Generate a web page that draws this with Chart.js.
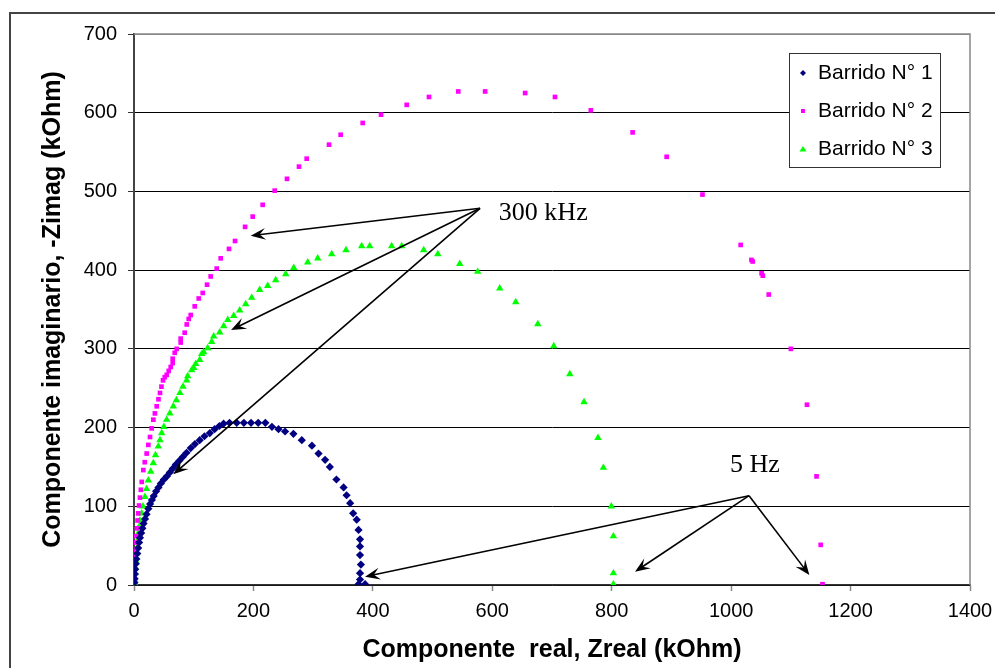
<!DOCTYPE html>
<html>
<head>
<meta charset="utf-8">
<script src="https://cdn.jsdelivr.net/npm/chart.js@4.4.1/dist/chart.umd.min.js"></script>
<style>
body { margin: 0; background: #fff; }
#wrap { width: 995px; height: 668px; }
</style>
</head>
<body>
<div id="wrap"><canvas id="myChart" width="995" height="668"></canvas></div>
<script>
// Barrido N° 1 (Zreal, -Zimag in kOhm)
const x1 = [0.5, 1, 1.5, 2, 3, 4, 5.5, 7, 8.5, 10, 12, 14, 16, 18.5, 21, 24, 27, 30, 33, 37, 41, 45, 50, 55, 60, 65, 70, 76, 82, 88, 95, 102, 110, 118, 127, 135, 143, 150, 160, 172, 184, 196, 208, 220, 231, 242, 253, 267, 281, 298, 309, 320, 328, 339, 351, 356, 362, 367, 373, 376, 378.5, 378.5, 378.5, 380, 378.5, 378.5, 376, 387]
const y1 = [3, 8, 14, 20, 27, 33, 40, 47, 54, 60, 66, 72, 78, 84, 90, 97, 103, 108, 113, 119, 124, 129, 134, 138, 143, 148, 153, 158, 163, 168, 174, 179, 184, 189, 193, 198, 202, 205, 206, 206, 206, 206, 206, 206, 201, 198, 195, 192, 184, 177, 167, 159, 150, 134, 124, 114, 104, 91, 83, 70, 58, 49, 38, 26, 15, 7, 1, 1]

// Barrido N° 2
const x2 = [0.5, 1, 1.5, 2, 2.5, 3, 3.5, 4, 5, 6, 7, 8.5, 10, 11.5, 13, 15.6, 18, 21.2, 24, 26.8, 29.5, 32.4, 35, 38, 41, 43.5, 46, 48.6, 51.5, 54.8, 58.1, 61.5, 64.8, 64.8, 68.2, 71.5, 78.2, 78.2, 84.9, 88.3, 91.6, 95, 101.7, 108.4, 115.1, 122.3, 128.4, 138.5, 145.2, 159.1, 169.2, 186, 198.8, 215.5, 235.6, 256.2, 276.3, 289.2, 326.6, 346.1, 383, 413.7, 456.7, 494, 543, 588, 655, 705, 765, 835, 892, 952, 1016, 1034, 1036, 1051, 1053, 1063, 1100, 1127, 1143, 1150, 1153]
const y2 = [5, 12, 20, 28, 36, 45, 54, 62, 72, 82, 91, 101, 111, 121, 131, 146, 156, 167, 178, 188, 199, 210, 218, 227, 236, 244, 252, 260, 264, 267, 272, 277, 282, 287.5, 295, 300, 308, 313, 320.5, 331, 338, 343, 354, 364, 371, 381.5, 392, 402, 415, 427, 437, 455, 468, 483, 501, 516, 531.5, 541.6, 559.4, 572, 587, 597.5, 610, 620, 627, 627, 625, 620, 603, 575, 544, 496, 432, 413, 411, 396, 393, 369, 300, 229, 138, 51, 1]

// Barrido N° 3
const x3 = [1, 1.7, 1.7, 2.5, 3.5, 4.5, 5.5, 6.5, 7.2, 8.5, 10, 12.9, 15, 18.4, 21, 24, 28, 32.3, 36, 40.7, 43.5, 46.4, 50, 54.7, 60, 65.8, 71, 77, 82, 88.2, 89.9, 96.6, 100, 103.3, 110, 113.4, 116.7, 123.4, 130.1, 133.5, 143.5, 150.2, 157, 167, 177, 187.1, 197.1, 210.5, 223.9, 237.3, 254.1, 267.5, 290.9, 307.7, 331.1, 355, 381.3, 394.7, 431.5, 448.3, 485.2, 508.7, 545.5, 575.6, 612.5, 639.3, 676.2, 703, 729.8, 753.6, 777, 786, 799.4, 802.8, 802.8, 802.8]
const y3 = [3, 6, 15, 22, 30, 40, 48, 57, 66, 74, 82, 91, 100, 112, 122, 133, 144, 155, 165, 176, 184, 193, 201, 210, 218, 227, 235, 244, 252, 260, 265.5, 273, 276, 281, 286, 293.5, 296, 301, 309, 316, 321, 329, 337, 342, 349, 357, 365, 375, 380, 387.5, 395, 403, 410, 415, 420.5, 425.6, 430.7, 430.7, 430.7, 430.7, 425.6, 420.5, 408, 398, 377, 359.5, 331.6, 303.6, 268, 232.5, 187, 149, 100, 62, 15, 1]

const seriesLabels = ['Barrido N° 1', 'Barrido N° 2', 'Barrido N° 3']
const xTitle = 'Componente  real, Zreal (kOhm)'
const yTitle = 'Componente imaginario, -Zimag (kOhm)'

// frequency call-outs, in data units
const hfText = '300 kHz'
const hfTextAt = [611, 472.6]
const hfFrom = [579.5, 478.6]
const hfTo = [[195.4, 443.8], [162.5, 324], [65.8, 140.6]]
const lfText = '5 Hz'
const lfTextAt = [998, 152.5]
const lfFrom = [1030, 113.5]
const lfTo = [[386.9, 10.6], [839, 16.9], [1131, 12.7]]

const colors = ['#000080', '#FF00FF', '#00FF00']
const shapes = ['rectRot', 'rect', 'triangle']
const radii = [4.1, 3.3, 4.3]

function toPoints(xs, ys) {
    return xs.map((x, i) => ({x: x, y: ys[i]}))
}

function arrow(ctx, xa, ya, xb, yb) {
    const a = Math.atan2(yb - ya, xb - xa)
    const c = Math.cos(a), s = Math.sin(a)
    ctx.beginPath()
    ctx.moveTo(xa, ya)
    ctx.lineTo(xb - 8 * c, yb - 8 * s)
    ctx.stroke()
    const L = 15, W = 6, N = 9
    ctx.beginPath()
    ctx.moveTo(xb, yb)
    ctx.lineTo(xb - L * c + W * s, yb - L * s - W * c)
    ctx.lineTo(xb - N * c, yb - N * s)
    ctx.lineTo(xb - L * c - W * s, yb - L * s + W * c)
    ctx.closePath()
    ctx.fill()
}

const framePlugin = {
    id: 'frame',
    beforeDraw(chart) {
        const ctx = chart.ctx
        ctx.save()
        ctx.fillStyle = '#fff'
        ctx.fillRect(0, 0, chart.width, chart.height)
        ctx.strokeStyle = '#444'
        ctx.lineWidth = 2
        ctx.beginPath()
        ctx.moveTo(10, chart.height + 2)
        ctx.lineTo(10, 13)
        ctx.lineTo(chart.width + 2, 13)
        ctx.stroke()
        ctx.restore()
    },
    beforeDatasetsDraw(chart) {
        const ctx = chart.ctx
        const a = chart.chartArea
        ctx.save()
        ctx.strokeStyle = '#888'
        ctx.lineWidth = 1.5
        ctx.beginPath()
        ctx.moveTo(a.left, a.top)
        ctx.lineTo(a.right, a.top)
        ctx.lineTo(a.right, a.bottom)
        ctx.stroke()
        ctx.restore()
    },
    afterDraw(chart) {
        const ctx = chart.ctx
        const xs = chart.scales.x, ys = chart.scales.y
        const px = (p) => [xs.getPixelForValue(p[0]), ys.getPixelForValue(p[1])]
        ctx.save()
        // arrows
        ctx.strokeStyle = '#000'
        ctx.fillStyle = '#000'
        ctx.lineWidth = 1.6
        const groups = [[hfFrom, hfTo], [lfFrom, lfTo]]
        for (let g of groups) {
            const f = px(g[0])
            for (let t of g[1]) {
                const q = px(t)
                arrow(ctx, f[0], f[1], q[0], q[1])
            }
        }
        ctx.font = '26px "Liberation Serif", "Times New Roman", serif'
        ctx.textBaseline = 'middle'
        ctx.textAlign = 'left'
        let p = px(hfTextAt)
        ctx.fillText(hfText, p[0], p[1])
        p = px(lfTextAt)
        ctx.fillText(lfText, p[0], p[1])

        // legend box
        const a = chart.chartArea
        const bx = a.right - 181, by = a.top + 19, bw = 151, bh = 114
        ctx.fillStyle = '#fff'
        ctx.fillRect(bx, by, bw, bh)
        ctx.strokeStyle = '#333'
        ctx.lineWidth = 1
        ctx.strokeRect(bx + 0.5, by + 0.5, bw, bh)
        ctx.font = '21px Arial, "Liberation Sans", sans-serif'
        for (let i = 0; i < seriesLabels.length; i++) {
            const cy = by + 20 + i * 38
            const mx = bx + 14
            ctx.fillStyle = colors[i]
            ctx.beginPath()
            if (i === 0) {
                ctx.moveTo(mx, cy - 3); ctx.lineTo(mx + 3, cy); ctx.lineTo(mx, cy + 3); ctx.lineTo(mx - 3, cy)
            } else if (i === 1) {
                ctx.rect(mx - 2, cy - 2, 4, 4)
            } else {
                ctx.moveTo(mx, cy - 3); ctx.lineTo(mx + 3.5, cy + 2.5); ctx.lineTo(mx - 3.5, cy + 2.5)
            }
            ctx.closePath()
            ctx.fill()
            ctx.fillStyle = '#000'
            ctx.fillText(seriesLabels[i], bx + 29, cy)
        }
        ctx.restore()
    }
}

const datasets = [toPoints(x1, y1), toPoints(x2, y2), toPoints(x3, y3)].map((d, i) => ({
    label: seriesLabels[i],
    data: d,
    showLine: false,
    pointStyle: shapes[i],
    pointRadius: radii[i],
    pointBackgroundColor: colors[i],
    pointBorderColor: colors[i],
    pointBorderWidth: 0
}))

const tickFont = {family: 'Arial, "Liberation Sans", sans-serif', size: 20}
const titleFont = {family: 'Arial, "Liberation Sans", sans-serif', size: 25, weight: 'bold'}

new Chart('myChart', {
    type: 'scatter',
    data: {datasets: datasets},
    plugins: [framePlugin],
    options: {
        responsive: false,
        animation: false,
        events: [],
        layout: {padding: {left: 0, right: 25, top: 34, bottom: 0}},
        plugins: {legend: {display: false}, tooltip: {enabled: false}},
        scales: {
            x: {
                type: 'linear',
                min: 0,
                max: 1400,
                afterFit: (s) => { s.height = 83; s.paddingRight = 0 },
                ticks: {stepSize: 200, color: '#000', font: tickFont, padding: 8, maxRotation: 0, callback: (v) => String(v)},
                grid: {drawOnChartArea: false, drawTicks: true, tickLength: 6, tickColor: '#888', tickWidth: 1.5},
                border: {display: true, color: '#333', width: 1.5},
                title: {display: true, text: xTitle, color: '#000', font: titleFont, padding: {top: 0, bottom: 3}}
            },
            y: {
                type: 'linear',
                min: 0,
                max: 700,
                afterFit: (s) => { s.width = 134 },
                ticks: {stepSize: 100, color: '#000', font: tickFont, padding: 11},
                grid: {
                    color: (c) => (c.tick && c.tick.value === 700) ? '#888' : '#000',
                    lineWidth: 1,
                    tickLength: 6,
                    tickColor: '#333'
                },
                border: {display: true, color: '#444', width: 2},
                title: {display: true, text: yTitle, color: '#000', font: titleFont, padding: {top: 38, bottom: 0}}
            }
        }
    }
})
</script>
</body>
</html>
